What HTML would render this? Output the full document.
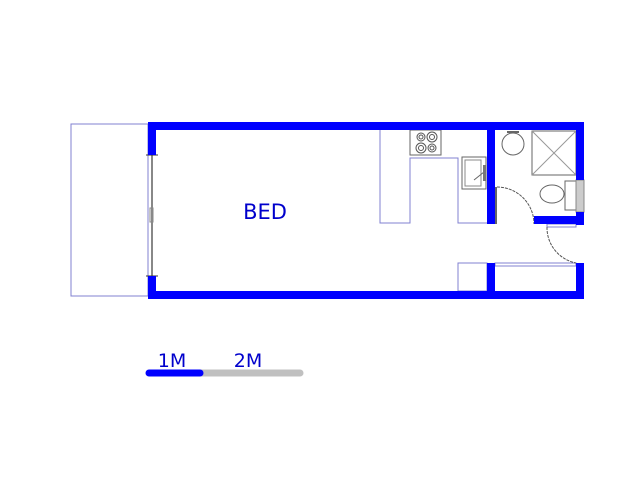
<!DOCTYPE html>
<html><head><style>body{margin:0;background:#fff}svg{display:block}</style></head><body>
<svg width="640" height="480" xmlns="http://www.w3.org/2000/svg">
<rect width="640" height="480" fill="#fff"/>
<rect x="71" y="124" width="77" height="172" fill="none" stroke="#8080d0" stroke-width="1"/>
<path d="M380 130 V223 H410 V158 H458 V223 H487" fill="none" stroke="#8080d0" stroke-width="1"/>
<rect x="458" y="263" width="29" height="28" fill="none" stroke="#8080d0" stroke-width="1"/>
<rect x="495" y="263" width="81" height="3" fill="none" stroke="#8080d0" stroke-width="1"/>
<rect x="547" y="224" width="29" height="3" fill="none" stroke="#8080d0" stroke-width="1"/>
<rect x="410" y="130" width="31" height="25" fill="none" stroke="#666" stroke-width="1"/>
<g fill="none" stroke="#555" stroke-width="1">
<circle cx="421" cy="137" r="4"/><circle cx="421" cy="137" r="2"/>
<circle cx="432" cy="137" r="5"/><circle cx="432" cy="137" r="2.5"/>
<circle cx="421" cy="148" r="5"/><circle cx="421" cy="148" r="2.5"/>
<circle cx="432" cy="148" r="4"/><circle cx="432" cy="148" r="2"/>
</g>
<rect x="462" y="157" width="24" height="32" fill="none" stroke="#666"/>
<rect x="465" y="160" width="16" height="26" fill="none" stroke="#888"/>
<line x1="474" y1="180" x2="484" y2="172" stroke="#666"/>
<rect x="483" y="165" width="3" height="16" fill="#777"/>
<circle cx="513" cy="144" r="11" fill="none" stroke="#666"/>
<line x1="507" y1="132" x2="519" y2="132" stroke="#666" stroke-width="2"/>
<rect x="532" y="131" width="44" height="44" fill="none" stroke="#666"/>
<line x1="532" y1="131" x2="576" y2="175" stroke="#999"/>
<line x1="576" y1="131" x2="532" y2="175" stroke="#999"/>
<ellipse cx="552" cy="194" rx="12" ry="9" fill="none" stroke="#666"/>
<rect x="565" y="181" width="12" height="29" fill="none" stroke="#666"/>
<line x1="496" y1="187" x2="496" y2="224" stroke="#666" stroke-width="2"/>
<path d="M497 187 A37 37 0 0 1 534 224" fill="none" stroke="#555" stroke-dasharray="3,1"/>
<path d="M547 227 A36 36 0 0 0 576 263" fill="none" stroke="#555" stroke-dasharray="3,1"/>
<line x1="152" y1="155" x2="152" y2="276" stroke="#888" stroke-width="2"/>
<rect x="150" y="208" width="3" height="14" fill="none" stroke="#888"/>
<line x1="146" y1="155" x2="158" y2="155" stroke="#333"/>
<line x1="146" y1="276" x2="158" y2="276" stroke="#333"/>
<rect x="576" y="180" width="8" height="32" fill="#ccc" stroke="#888"/>
<g fill="#0000ff">
<rect x="148" y="122" width="436" height="8" rx="3"/>
<rect x="148" y="291" width="436" height="8" rx="3"/>
<rect x="148" y="122" width="8" height="33"/>
<rect x="148" y="276" width="8" height="23"/>
<rect x="576" y="122" width="8" height="58"/>
<rect x="576" y="212" width="8" height="13"/>
<rect x="576" y="263" width="8" height="36"/>
<rect x="487" y="122" width="8" height="102"/>
<rect x="487" y="263" width="8" height="36"/>
<rect x="534" y="216" width="50" height="8"/>
</g>
<text x="265" y="219" font-family="DejaVu Sans, sans-serif" font-size="21" fill="#0000cc" text-anchor="middle">BED</text>
<line x1="200" y1="373" x2="300" y2="373" stroke="#c0c0c0" stroke-width="7" stroke-linecap="round"/>
<line x1="149" y1="373" x2="200" y2="373" stroke="#0000ff" stroke-width="7" stroke-linecap="round"/>
<text x="172" y="367" font-family="DejaVu Sans, sans-serif" font-size="19" fill="#0000cc" text-anchor="middle">1M</text>
<text x="248" y="367" font-family="DejaVu Sans, sans-serif" font-size="19" fill="#0000cc" text-anchor="middle">2M</text>
</svg>
</body></html>
